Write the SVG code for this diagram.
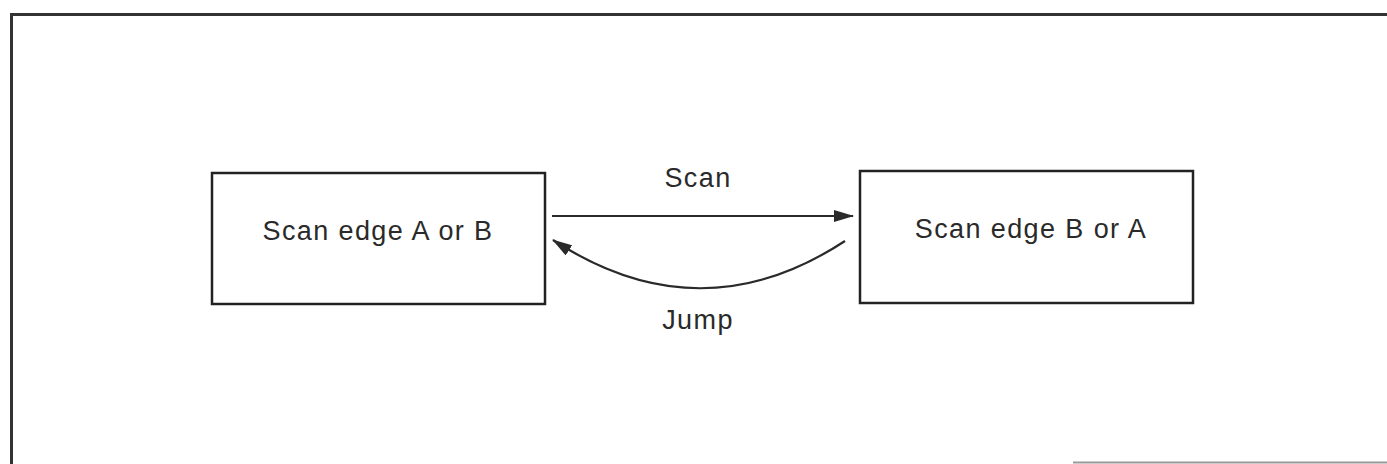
<svg xmlns="http://www.w3.org/2000/svg" width="1387" height="464" viewBox="0 0 1387 464">
  <style>
    .box { fill: #ffffff; stroke: #222222; stroke-width: 2.5; }
    .lbl { font-family: "Liberation Sans", Arial, sans-serif; font-size: 27px; letter-spacing: 1.4px; fill: #2a2a2a; }
    .conn { fill: none; stroke: #2a2a2a; stroke-width: 2.2; }
    .frame { fill: none; stroke: #333333; stroke-width: 3; }
  </style>
  <defs>
    <marker id="ah" markerWidth="12" markerHeight="10" refX="11" refY="5" orient="auto" markerUnits="userSpaceOnUse" viewBox="0 0 12 10">
      <path d="M0,0 L12,5 L0,10 Z" fill="#2a2a2a"/>
    </marker>
    <marker id="ah2" markerWidth="20" markerHeight="12" refX="19" refY="6" orient="auto" markerUnits="userSpaceOnUse" viewBox="0 0 20 12">
      <path d="M0,0 L20,6 L0,12 Z" fill="#2a2a2a"/>
    </marker>
  </defs>
  <rect width="1387" height="464" fill="#ffffff"/>
  <g id="frame">
    <path class="frame" d="M10,14.5 L1387,14.5 M11.5,14 L11.5,464"/>
    <path d="M1073,462.5 L1387,462.5" stroke="#999999" stroke-width="2" fill="none"/>
  </g>
  <g id="node-a">
    <rect class="box" x="212" y="173" width="333" height="131"/>
    <text class="lbl" x="378" y="240" text-anchor="middle">Scan edge A or B</text>
  </g>
  <g id="node-b">
    <rect class="box" x="860" y="171" width="333" height="132"/>
    <text class="lbl" x="1031" y="238" text-anchor="middle">Scan edge B or A</text>
  </g>
  <g id="connectors">
    <line class="conn" x1="552" y1="216" x2="853" y2="216" marker-end="url(#ah2)"/>
    <path class="conn" d="M845,241 Q700,336 553,240" marker-end="url(#ah2)"/>
    <text class="lbl" x="698" y="187" text-anchor="middle">Scan</text>
    <text class="lbl" x="698" y="329" text-anchor="middle">Jump</text>
  </g>
</svg>
